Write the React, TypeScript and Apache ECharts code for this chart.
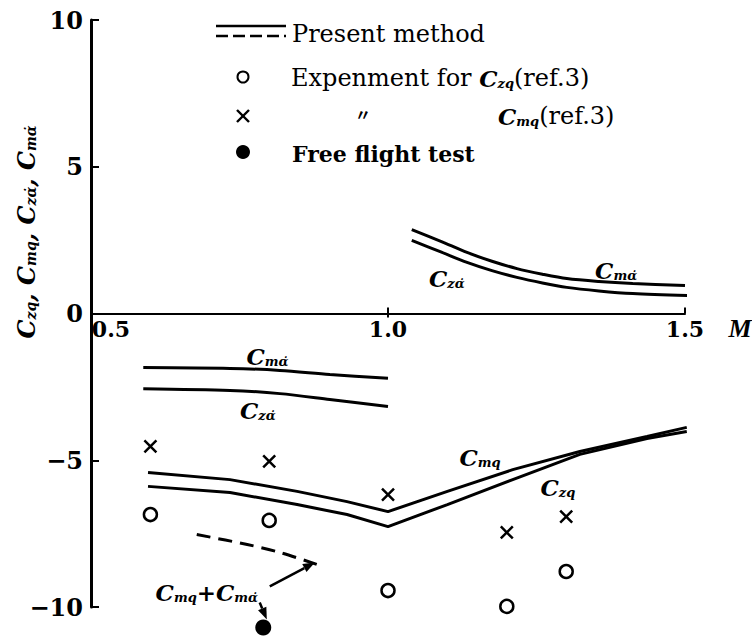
import React, { useEffect, useRef } from 'react';
import * as echarts from 'echarts';

const SERIF = '"DejaVu Serif", "Liberation Serif", serif';

// x ticks
const X_TICKS = [0.5, 1.0, 1.5];
const Y_TICKS = [-10, -5, 0, 5, 10];

// Present method, supersonic
const M_SUP_CMA = [1.04, 1.09, 1.133, 1.175, 1.217, 1.26, 1.301, 1.355, 1.412, 1.5];
const CMA_SUP = [2.86, 2.45, 2.08, 1.78, 1.53, 1.34, 1.19, 1.09, 1.02, 0.95];
const M_SUP_CZA = [1.04, 1.09, 1.133, 1.175, 1.217, 1.26, 1.301, 1.355, 1.412, 1.505];
const CZA_SUP = [2.49, 2.09, 1.74, 1.46, 1.23, 1.04, 0.89, 0.77, 0.68, 0.61];

// Present method, subsonic
const M_SUB = [0.588, 0.734, 0.818, 0.902, 1.0];
const CMA_SUB = [-1.84, -1.87, -1.94, -2.08, -2.21];
const CZA_SUB = [-2.56, -2.62, -2.73, -2.93, -3.17];

// Present method, damping derivatives
const M_Q = [0.596, 0.734, 0.847, 0.931, 1.0, 1.1, 1.21, 1.323, 1.436, 1.503];
const CMQ = [-5.42, -5.66, -6.06, -6.41, -6.75, -6.06, -5.32, -4.7, -4.19, -3.88];
const CZQ = [-5.89, -6.1, -6.51, -6.85, -7.26, -6.51, -5.66, -4.8, -4.26, -4.02];

// Cmq + Cmα̇ (dashed)
const M_SUM = [0.678, 0.763, 0.818, 0.88];
const CMQ_CMA = [-7.53, -7.87, -8.14, -8.55];

// Experiments (ref.3)
const M_EXP = [0.6, 0.8, 1.0, 1.2, 1.3];
const CZQ_EXP = [-6.85, -7.05, -9.44, -9.98, -8.79];
const CMQ_EXP = [-4.53, -5.04, -6.17, -7.46, -6.92];

// Free flight test
const M_FREE = [0.79];
const FREE = [-10.7];

const zip = (xs: number[], ys: number[]) => xs.map((x, i) => [x, ys[i]]);

const sym = {
  c: { fontFamily: SERIF, fontStyle: 'italic', fontWeight: 'bold', fontSize: 23, lineHeight: 26, verticalAlign: 'bottom', fill: '#000' },
  s: { fontFamily: SERIF, fontStyle: 'italic', fontWeight: 'bold', fontSize: 13, lineHeight: 14, verticalAlign: 'bottom', fill: '#000' },
  t: { fontFamily: SERIF, fontSize: 24, lineHeight: 26, verticalAlign: 'bottom', fill: '#000' },
  p: { fontFamily: SERIF, fontWeight: 'bold', fontSize: 22, lineHeight: 26, verticalAlign: 'bottom', fill: '#000' },
  y: { fontFamily: SERIF, fontStyle: 'italic', fontWeight: 'bold', fontSize: 24, lineHeight: 28, verticalAlign: 'bottom', fill: '#000' },
  ys: { fontFamily: SERIF, fontStyle: 'italic', fontWeight: 'bold', fontSize: 14, lineHeight: 15, verticalAlign: 'bottom', fill: '#000' },
};

const lineSeries = (name: string, xs: number[], ys: number[], smooth: boolean, dashed = false) => ({
  name,
  type: 'line',
  data: zip(xs, ys),
  smooth: smooth ? 0.3 : false,
  symbol: 'none',
  lineStyle: { color: '#000', width: 3, type: dashed ? [14, 8] : 'solid' },
  z: 3,
});

export default function App() {
  const ref = useRef<HTMLDivElement>(null);
  useEffect(() => {
    const chart = echarts.init(ref.current!, null, { renderer: 'svg' });
    chart.setOption({
      animation: false,
      backgroundColor: '#fff',
      grid: { left: 91, right: 67, top: 20, bottom: 34, containLabel: false },
      xAxis: {
        type: 'value',
        min: X_TICKS[0],
        max: X_TICKS[X_TICKS.length - 1],
        interval: 0.5,
        axisLine: { onZero: true, lineStyle: { color: '#000', width: 2 } },
        axisTick: { show: false },
        splitLine: { show: false },
        axisLabel: { show: false },
      },
      yAxis: {
        type: 'value',
        min: Y_TICKS[0],
        max: Y_TICKS[Y_TICKS.length - 1],
        interval: 5,
        axisLine: { show: true, onZero: false, lineStyle: { color: '#000', width: 3 } },
        axisTick: { show: true, inside: true, length: 8, lineStyle: { color: '#000', width: 2 } },
        splitLine: { show: false },
        axisLabel: {
          margin: 8,
          color: '#000',
          fontFamily: SERIF,
          fontWeight: 'bold',
          fontSize: 24,
          formatter: (v: number) => (v < 0 ? '\u2212' + -v : String(v)),
        },
      },
      series: [
        lineSeries('Cma sup', M_SUP_CMA, CMA_SUP, true),
        lineSeries('Cza sup', M_SUP_CZA, CZA_SUP, true),
        lineSeries('Cma sub', M_SUB, CMA_SUB, true),
        lineSeries('Cza sub', M_SUB, CZA_SUB, true),
        lineSeries('Cmq', M_Q, CMQ, false),
        lineSeries('Czq', M_Q, CZQ, false),
        lineSeries('Cmq+Cma', M_SUM, CMQ_CMA, true, true),
        {
          name: 'Czq exp',
          type: 'scatter',
          data: zip(M_EXP, CZQ_EXP),
          symbol: 'circle',
          symbolSize: 13,
          itemStyle: { color: '#fff', borderColor: '#000', borderWidth: 2.5, opacity: 1 },
          z: 4,
        },
        {
          name: 'Cmq exp',
          type: 'scatter',
          data: zip(M_EXP, CMQ_EXP),
          symbol: 'path://M0,0L10,10M10,0L0,10',
          symbolSize: 12,
          itemStyle: { color: 'none', borderColor: '#000', borderWidth: 2.5, opacity: 1 },
          z: 4,
        },
        {
          name: 'Free flight',
          type: 'scatter',
          clip: false,
          data: zip(M_FREE, FREE),
          symbol: 'circle',
          symbolSize: 16,
          itemStyle: { color: '#000', opacity: 1 },
          z: 4,
        },
      ],
    });

    const px = (m: number, v: number) => chart.convertToPixel({ gridIndex: 0 }, [m, v]) as number[];
    const label = (m: number, v: number, text: string) => {
      const [x, y] = px(m, v);
      return { type: 'text', x, y, z: 10, style: { text, rich: sym, align: 'center', verticalAlign: 'middle' } };
    };
    const arrow = (a: number[], b: number[]) => {
      const [x1, y1] = px(a[0], a[1]);
      const [x2, y2] = px(b[0], b[1]);
      const dx = x2 - x1, dy = y2 - y1;
      const L = Math.hypot(dx, dy);
      const ux = dx / L, uy = dy / L;
      const nx = -uy, ny = ux;
      const len = 12, w = 4.5;
      const bx = x2 - ux * len, by = y2 - uy * len;
      return [
        { type: 'line', z: 10, shape: { x1, y1, x2: bx, y2: by }, style: { stroke: '#000', lineWidth: 2.5 } },
        { type: 'polygon', z: 10, shape: { points: [[x2, y2], [bx + nx * w, by + ny * w], [bx - nx * w, by - ny * w]] }, style: { fill: '#000' } },
      ];
    };
    const xTickEls = X_TICKS.flatMap((t, i) => {
      const [x, y] = px(t, 0);
      const els: any[] = [
        {
          type: 'text', x: i === 0 ? x + 20 : x, y: y + 15, z: 10,
          style: { text: t.toFixed(1), font: `bold 22px ${SERIF}`, fill: '#000', align: 'center', verticalAlign: 'middle' },
        },
      ];
      if (i > 0) {
        els.push({ type: 'line', z: 10, shape: { x1: x, y1: y - 6, x2: x, y2: y + (i === 1 ? 4 : 0) }, style: { stroke: '#000', lineWidth: 2 } });
      }
      return els;
    });
    const [mx, my] = px(X_TICKS[X_TICKS.length - 1], 0);

    chart.setOption({
      graphic: [
        // legend
        { type: 'line', shape: { x1: 216, y1: 26, x2: 286, y2: 26 }, style: { stroke: '#000', lineWidth: 2.5 } },
        { type: 'line', shape: { x1: 216, y1: 36, x2: 286, y2: 36 }, style: { stroke: '#000', lineWidth: 2.5, lineDash: [12, 5] } },
        { type: 'text', x: 292, y: 33, style: { text: '{t|Present method}', rich: sym, align: 'left', verticalAlign: 'middle' } },
        { type: 'circle', shape: { cx: 243, cy: 77, r: 5.5 }, style: { fill: '#fff', stroke: '#000', lineWidth: 2 } },
        { type: 'text', x: 291, y: 77, style: { text: '{t|Expenment for }{c|C}{s|zq}{t|(ref.3)}', rich: sym, align: 'left', verticalAlign: 'middle' } },
        { type: 'line', shape: { x1: 237, y1: 110, x2: 249, y2: 122 }, style: { stroke: '#000', lineWidth: 2.4 } },
        { type: 'line', shape: { x1: 249, y1: 110, x2: 237, y2: 122 }, style: { stroke: '#000', lineWidth: 2.4 } },
        { type: 'text', x: 363, y: 114, style: { text: '\u3003', font: 'bold 16px "Noto Sans CJK JP"', fill: '#000', align: 'center', verticalAlign: 'middle' } },
        { type: 'text', x: 498, y: 115, style: { text: '{c|C}{s|mq}{t|(ref.3)}', rich: sym, align: 'left', verticalAlign: 'middle' } },
        { type: 'circle', shape: { cx: 243, cy: 152, r: 7 }, style: { fill: '#000' } },
        { type: 'text', x: 292, y: 152, style: { text: '{p|Free flight test}', rich: sym, align: 'left', verticalAlign: 'middle' } },
        // axis names
        {
          type: 'text', x: 24, y: 232, rotation: Math.PI / 2,
          style: { text: '{y|C}{ys|zq}{y|, C}{ys|mq}{y|, C}{ys|z\u03B1\u0307}{y|, C}{ys|m\u03B1\u0307}', rich: sym, align: 'center', verticalAlign: 'middle' },
        },
        { type: 'text', x: mx + 55, y: my + 15, style: { text: 'M', font: 'italic bold 26px "Liberation Serif"', fill: '#000', align: 'center', verticalAlign: 'middle' } },
        ...xTickEls,
        // curve labels
        label(0.797, -1.43, '{c|C}{s|m\u03B1\u0307}'),
        label(0.781, -3.27, '{c|C}{s|z\u03B1\u0307}'),
        label(1.099, 1.26, '{c|C}{s|z\u03B1\u0307}'),
        label(1.384, 1.5, '{c|C}{s|m\u03B1\u0307}'),
        label(1.155, -4.87, '{c|C}{s|mq}'),
        label(1.286, -5.89, '{c|C}{s|zq}'),
        label(0.695, -9.47, '{c|C}{s|mq}{c|+C}{s|m\u03B1\u0307}'),
        ...arrow([0.801, -9.3], [0.877, -8.48]),
        ...arrow([0.784, -9.85], [0.796, -10.43]),
      ],
    });
    return () => chart.dispose();
  }, []);
  return <div ref={ref} style={{ position: 'fixed', left: 0, top: 0, width: 752, height: 641, background: '#fff' }} />;
}
